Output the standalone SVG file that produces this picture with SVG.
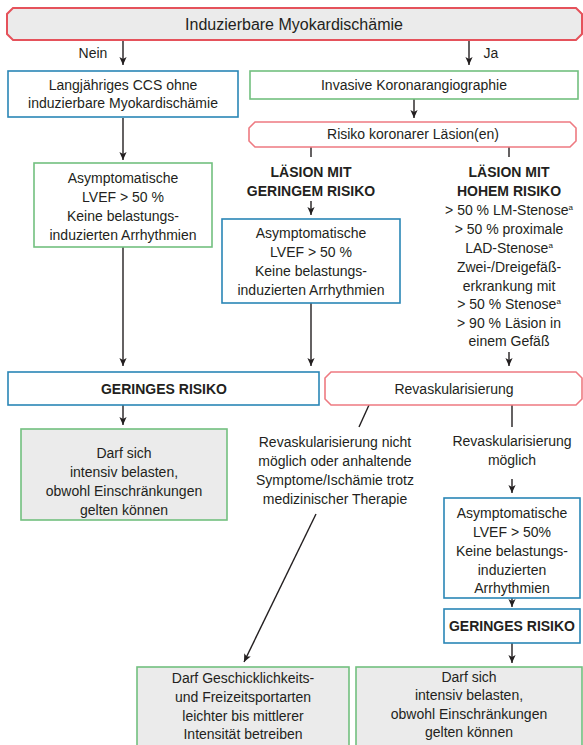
<svg xmlns="http://www.w3.org/2000/svg" width="583" height="745" viewBox="0 0 583 745">
<style>
  text { font-family: "Liberation Sans", Arial, sans-serif; font-size: 14px; fill: #231f20; text-anchor: middle; }
  .b { font-weight: bold; }
  .title { font-size: 16px; }
  .sup { font-size: 8px; }
  .red { fill: #ebebeb; stroke: #e5525b; stroke-width: 2; }
  .redl { fill: #ffffff; stroke: #ee7a81; stroke-width: 1.6; }
  .blue { fill: #ffffff; stroke: #2a86b6; stroke-width: 1.6; }
  .green { fill: #ffffff; stroke: #72c07f; stroke-width: 1.6; }
  .greyg { fill: #ebebeb; stroke: #72c07f; stroke-width: 1.6; }
  .c { fill: none; stroke: #231f20; stroke-width: 1.4; }
  .a { marker-end: url(#ah); }
</style>
<defs>
  <marker id="ah" viewBox="0 0 10 10" refX="10" refY="5" markerWidth="8" markerHeight="8" markerUnits="userSpaceOnUse" orient="auto">
    <path d="M0,0.5 L10,5 L0,9.5 L2.5,5 z" fill="#231f20"/>
  </marker>
</defs>

<g id="connectors">
  <line class="c a" x1="123" y1="41" x2="123" y2="65"/>
  <line class="c a" x1="469" y1="41" x2="469" y2="65"/>
  <line class="c a" x1="123" y1="118" x2="123" y2="160"/>
  <line class="c a" x1="414" y1="99" x2="414" y2="118"/>
  <line class="c" x1="311" y1="147" x2="311" y2="157"/>
  <line class="c" x1="509" y1="147" x2="509" y2="157"/>
  <line class="c a" x1="311" y1="201" x2="311" y2="215"/>
  <line class="c a" x1="123" y1="247" x2="123" y2="366"/>
  <line class="c a" x1="311" y1="303" x2="311" y2="366"/>
  <line class="c a" x1="509" y1="352" x2="509" y2="366"/>
  <line class="c a" x1="123" y1="405" x2="123" y2="425"/>
  <line class="c" x1="369" y1="405" x2="359" y2="427"/>
  <line class="c" x1="512" y1="405" x2="512" y2="427"/>
  <line class="c a" x1="316" y1="514" x2="244" y2="662"/>
  <line class="c a" x1="512" y1="479" x2="512" y2="493"/>
  <line class="c a" x1="512" y1="598" x2="512" y2="607"/>
  <line class="c a" x1="512" y1="643" x2="512" y2="663"/>
</g>

<g id="n-title">
  <polygon class="red" points="13,8 576,8 582,14 582,34 576,40 13,40 7,34 7,14"/>
  <text class="title" x="294" y="30">Induzierbare Myokardischämie</text>
</g>
<g id="l-nein"><text x="93" y="58">Nein</text></g>
<g id="l-ja"><text x="491" y="58">Ja</text></g>

<g id="n-ccs">
  <rect class="blue" x="8" y="71" width="230" height="46"/>
  <text x="123" y="90">Langjähriges CCS ohne</text>
  <text x="123" y="108">induzierbare Myokardischämie</text>
</g>

<g id="n-ica">
  <rect class="green" x="250" y="71" width="328" height="28"/>
  <text x="414" y="90">Invasive Koronarangiographie</text>
</g>

<g id="n-risiko">
  <polygon class="redl" points="255,122 570,122 576,128 576,141 570,147 255,147 249,141 249,128"/>
  <text x="413" y="139">Risiko koronarer Läsion(en)</text>
</g>

<g id="n-asym1">
  <rect class="green" x="34" y="163" width="178" height="84"/>
  <text x="123" y="183">Asymptomatische</text>
  <text x="123" y="202">LVEF &gt; 50 %</text>
  <text x="123" y="221">Keine belastungs-</text>
  <text x="123" y="240">induzierten Arrhythmien</text>
</g>

<g id="n-gering-label">
  <text class="b" x="311" y="177">LÄSION MIT</text>
  <text class="b" x="311" y="196">GERINGEM RISIKO</text>
</g>

<g id="n-asym2">
  <rect class="blue" x="222" y="219" width="178" height="84"/>
  <text x="311" y="238">Asymptomatische</text>
  <text x="311" y="257">LVEF &gt; 50 %</text>
  <text x="311" y="276">Keine belastungs-</text>
  <text x="311" y="295">induzierten Arrhythmien</text>
</g>

<g id="n-hoch-label">
  <text class="b" x="509" y="177">LÄSION MIT</text>
  <text class="b" x="509" y="196">HOHEM RISIKO</text>
  <text x="509" y="215">&gt; 50 % LM-Stenose<tspan class="sup" dy="-5">a</tspan></text>
  <text x="509" y="234">&gt; 50 % proximale</text>
  <text x="509" y="253">LAD-Stenose<tspan class="sup" dy="-5">a</tspan></text>
  <text x="509" y="272">Zwei-/Dreigefäß-</text>
  <text x="509" y="291">erkrankung mit</text>
  <text x="509" y="309">&gt; 50 % Stenose<tspan class="sup" dy="-5">a</tspan></text>
  <text x="509" y="328">&gt; 90 % Läsion in</text>
  <text x="509" y="346">einem Gefäß</text>
</g>

<g id="n-gering1">
  <rect class="blue" x="8" y="372" width="311" height="33"/>
  <text class="b" x="164" y="394">GERINGES RISIKO</text>
</g>

<g id="n-revask">
  <polygon class="redl" points="331,372 576,372 582,378 582,399 576,405 331,405 325,399 325,378"/>
  <text x="454" y="394">Revaskularisierung</text>
</g>

<g id="n-darf1">
  <rect class="greyg" x="21" y="429" width="206" height="91"/>
  <text x="124" y="458">Darf sich</text>
  <text x="124" y="477">intensiv belasten,</text>
  <text x="124" y="496">obwohl Einschränkungen</text>
  <text x="124" y="515">gelten können</text>
</g>

<g id="l-nicht">
  <text x="335" y="447">Revaskularisierung nicht</text>
  <text x="335" y="466">möglich oder anhaltende</text>
  <text x="335" y="485">Symptome/Ischämie trotz</text>
  <text x="335" y="504">medizinischer Therapie</text>
</g>

<g id="l-moeglich">
  <text x="512" y="446">Revaskularisierung</text>
  <text x="512" y="465">möglich</text>
</g>

<g id="n-asym3">
  <rect class="blue" x="444" y="498" width="136" height="100"/>
  <text x="512" y="518">Asymptomatische</text>
  <text x="512" y="537">LVEF &gt; 50%</text>
  <text x="512" y="556">Keine belastungs-</text>
  <text x="512" y="575">induzierten</text>
  <text x="512" y="593">Arrhythmien</text>
</g>

<g id="n-gering2">
  <rect class="blue" x="444" y="609" width="136" height="34"/>
  <text class="b" x="512" y="631">GERINGES RISIKO</text>
</g>

<g id="n-darf2">
  <rect class="greyg" x="137" y="667" width="212" height="82"/>
  <text x="243" y="683">Darf Geschicklichkeits-</text>
  <text x="243" y="702">und Freizeitsportarten</text>
  <text x="243" y="721">leichter bis mittlerer</text>
  <text x="243" y="739">Intensität betreiben</text>
</g>

<g id="n-darf3">
  <rect class="greyg" x="356" y="667" width="226" height="82"/>
  <text x="469" y="682">Darf sich</text>
  <text x="469" y="700">intensiv belasten,</text>
  <text x="469" y="719">obwohl Einschränkungen</text>
  <text x="469" y="737">gelten können</text>
</g>
</svg>
